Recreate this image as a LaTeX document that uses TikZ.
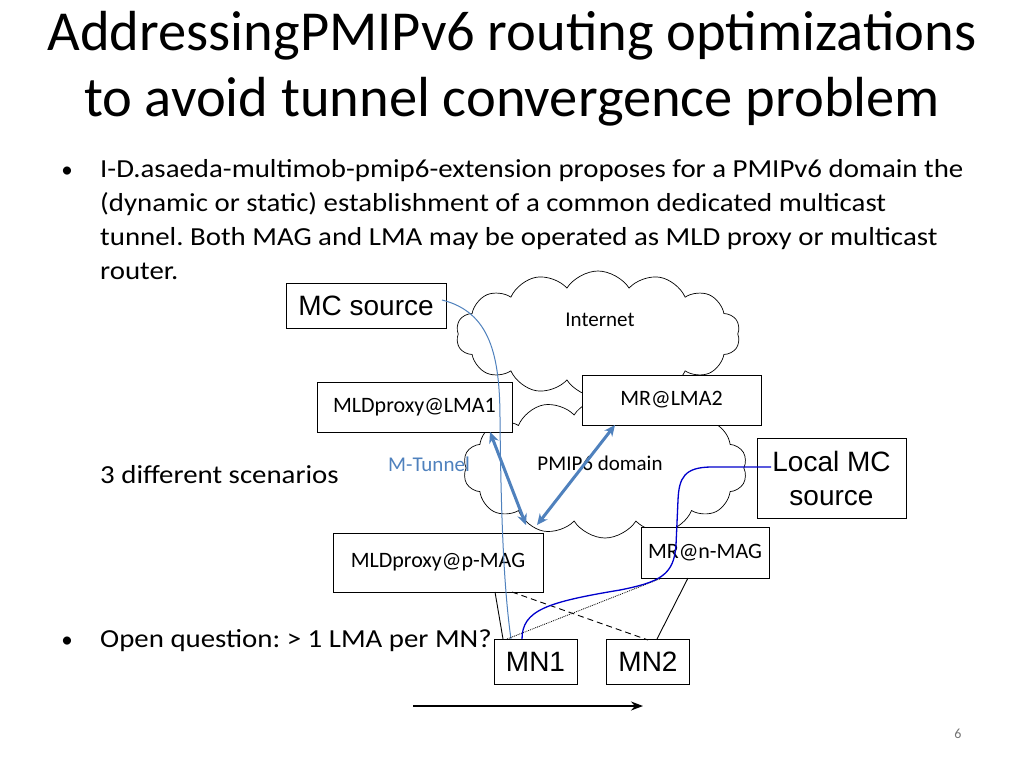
\documentclass[tikz,border=0pt]{standalone}
\usepackage{fontspec}
\setmainfont{Carlito}
\newfontfamily\bodyf[FakeStretch=1.11]{Carlito}
\newfontfamily\arialf{Liberation Sans}
\usetikzlibrary{shapes.symbols,arrows.meta}
\definecolor{tunblue}{RGB}{79,129,189}
\definecolor{dkblue}{RGB}{0,0,204}
\frenchspacing
\tikzset{
  titletext/.style={anchor=base,inner sep=0pt,font=\fontsize{56.5}{66}\selectfont},
  bodytext/.style={anchor=base west,inner sep=0pt,font=\bodyf\fontsize{26}{34}\selectfont},
  bullettext/.style={anchor=base,inner sep=0pt,font=\fontsize{23}{26}\selectfont},
  smallbox/.style={draw,fill=white,inner sep=1pt,line width=0.9pt,font=\fontsize{22}{26}\selectfont},
  arialbox/.style={draw,fill=white,inner sep=1pt,line width=0.9pt,align=center,font=\arialf\fontsize{28}{34}\selectfont},
  cloudshape/.style={cloud,draw,fill=white,cloud puffs=14,cloud puff arc=115,cloud ignores aspect,inner sep=0pt,line width=0.7pt},
  cloudlabel/.style={inner sep=0pt,font=\fontsize{21}{24}\selectfont},
  tunnel/.style={draw=tunblue,line width=3pt,{Stealth[length=11pt,width=10pt]}-{Stealth[length=11pt,width=10pt]}},
  link/.style={draw,line width=0.9pt},
}
\begin{document}
\begin{tikzpicture}[x=1pt,y=-1pt]
\useasboundingbox (0,0) rectangle (1024,768);
% title
\node[titletext] (t1) at (512,50) {AddressingPMIPv6 routing optimizations};
\node[titletext] (t2) at (512,116) {to avoid tunnel convergence problem};
% body
\node[bullettext] (b1) at (67,177) {•};
\node[bodytext] (l1) at (100,177) {I-D.asaeda-multimob-pmip6-extension proposes for a PMIPv6 domain the};
\node[bodytext] (l2) at (100,211) {(dynamic or static) establishment of a common dedicated multicast};
\node[bodytext] (l3) at (100,245) {tunnel. Both MAG and LMA may be operated as MLD proxy or multicast};
\node[bodytext] (l4) at (100,279) {router.};
\node[bodytext] (sc) at (100,483) {3 different scenarios};
\node[bullettext] (b2) at (67,647) {•};
\node[bodytext] (oq) at (100,647) {Open question: > 1 LMA per MN?};
\node[anchor=base,inner sep=0pt,text=black!55,font=\fontsize{14}{16}\selectfont] (pg) at (958,738) {6};
% clouds
\node[cloudshape,minimum width=284pt,minimum height=126pt] (inet) at (598,334) {};
\node[cloudshape,minimum width=284pt,minimum height=140pt] (pmip) at (605,468) {};
\node[cloudlabel] (inetl) at (600,320) {Internet};
\node[cloudlabel] (pmipl) at (600,463) {PMIP6 domain};
\node[cloudlabel,text=tunblue] (mtun) at (429,464) {M-Tunnel};
% boxes
\node[arialbox,minimum width=160pt,minimum height=45pt] (mcsrc) at (366,305.5) {MC source};
\node[smallbox,minimum width=195pt,minimum height=50pt] (lma1) at (414.5,407) {MLDproxy@LMA1};
\node[smallbox,minimum width=179pt,minimum height=50pt] (lma2) at (671.5,400) {MR@LMA2};
\node[arialbox,minimum width=149pt,minimum height=80pt] (lmc) at (831.5,478) {Local MC\\source};
\node[smallbox,minimum width=210pt,minimum height=59pt] (pmag) at (438,562.5) {MLDproxy@p-MAG};
\node[smallbox,minimum width=128pt,minimum height=51pt] (nmag) at (705,552.5) {MR@n-MAG};
\node[arialbox,minimum width=83pt,minimum height=45pt] (mn1) at (535.5,661.5) {MN1};
\node[arialbox,minimum width=83pt,minimum height=45pt] (mn2) at (648,661.5) {MN2};
% connector end points
\coordinate (mcout) at (442,300);
\coordinate (mn1a) at (503,639);
\coordinate (mn1b) at (507,639);
\coordinate (mn1c) at (511,639);
\coordinate (mn1d) at (522,639);
\coordinate (mn2a) at (648,640);
\coordinate (mn2b) at (657,639);
\coordinate (pmagA) at (495,592);
\coordinate (pmagB) at (512,592);
\coordinate (pmagT1) at (526,525);
\coordinate (pmagT2) at (537,525);
\coordinate (lma1b) at (490,432);
\coordinate (lma2b) at (615,425);
\coordinate (nmagA) at (662,578);
\coordinate (nmagB) at (688,578);
\coordinate (lmcin) at (771,467);
% connectors
\draw[tunblue,line width=1pt] (mcout) .. controls (490,312) and (500,355) .. (500,420) .. controls (501,520) and (504,590) .. (mn1c);
\draw[tunnel] (lma1b) -- (pmagT1);
\draw[tunnel] (lma2b) -- (pmagT2);
\draw[link] (pmagA) -- (mn1a);
\draw[link] (nmagB) -- (mn2b);
\draw[link,dashed,dash pattern=on 6pt off 4pt] (pmagB) -- (mn2a);
\draw[link,densely dotted,line width=0.8pt] (mn1b) -- (nmagA);
\draw[dkblue,line width=1.3pt] (lmcin) -- (712,467) .. controls (684,467) and (679,478) .. (678,500) -- (676,545) .. controls (674,575) and (660,582) .. (620,590) .. controls (548,602) and (522,610) .. (mn1d);
% bottom arrow
\coordinate (arrA) at (413,706);
\coordinate (arrB) at (643,706);
\draw[line width=1.3pt,-{Stealth[length=12pt,width=9pt]}] (arrA) -- (arrB);
\end{tikzpicture}
\end{document}
